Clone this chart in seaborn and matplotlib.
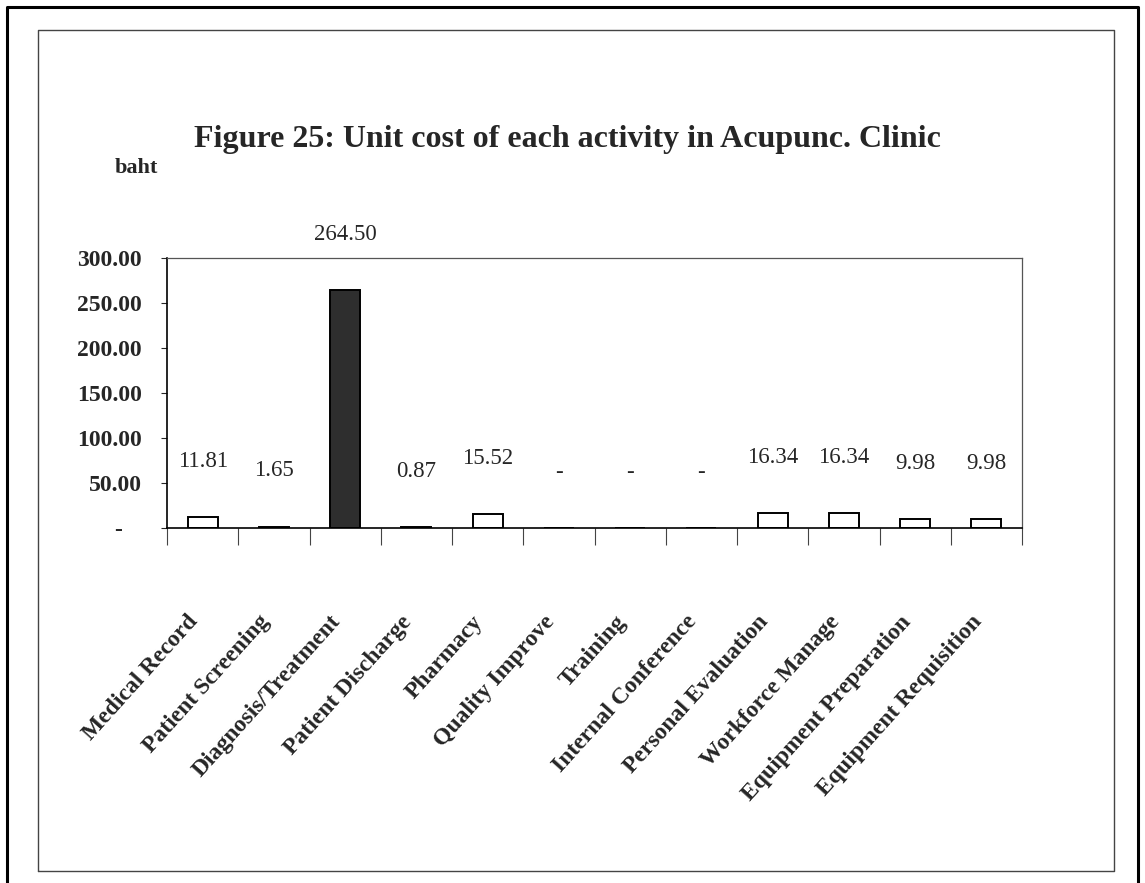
import numpy as np
import matplotlib
matplotlib.use("Agg")
import matplotlib.pyplot as plt
import matplotlib.transforms as mtransforms
from matplotlib.lines import Line2D
from matplotlib.ticker import FixedLocator
import seaborn as sns

# data
activities = ['Medical Record', 'Patient Screening', 'Diagnosis/Treatment',
              'Patient Discharge', 'Pharmacy', 'Quality Improve', 'Training',
              'Internal Conference', 'Personal Evaluation', 'Workforce Manage',
              'Equipment Preparation', 'Equipment Requisition']
unit_cost = [11.81, 1.65, 264.50, 0.87, 15.52, 0.0, 0.0, 0.0, 16.34, 16.34, 9.98, 9.98]
y_ticks = [0, 50, 100, 150, 200, 250, 300]

sns.set_style('white')
plt.rcParams['font.family'] = ['Liberation Serif', 'DejaVu Serif']

W, H = 1145, 883
fig = plt.figure(figsize=(W / 100, H / 100), dpi=100)
ax = fig.add_axes([167 / W, 1 - 528 / H, (1022 - 167) / W, (528 - 258) / H])

colors = ['#2e2e2e' if v == max(unit_cost) else 'white' for v in unit_cost]
sns.barplot(x=activities, y=unit_cost, hue=activities, palette=colors, legend=False,
            width=0.42, edgecolor='black', linewidth=1.4, ax=ax)

ax.set_xlim(-0.5, len(activities) - 0.5)
ax.set_ylim(0, 300)

# value labels above each bar
for p, v in zip(ax.patches, unit_cost):
    txt = '-' if v == 0 else f'{v:.2f}'
    ax.annotate(txt, (p.get_x() + p.get_width() / 2, p.get_height()),
                xytext=(0, 40), textcoords='offset points',
                ha='center', va='center', fontsize=16.5, annotation_clip=False)

# y axis
ax.set_yticks(y_ticks)
ax.set_yticklabels(['-' if t == 0 else f'{t:.2f}' for t in y_ticks],
                   fontsize=17, fontweight='bold')
ax.tick_params(axis='y', direction='out', length=4, width=0.8, pad=14, left=True)
shift = mtransforms.ScaledTranslation(-20 / 100, 0, fig.dpi_scale_trans)
lab0 = ax.get_yticklabels()[0]
lab0.set_transform(lab0.get_transform() + shift)

# x axis: labels at centres, tick marks between categories
ax.set_xticks(range(len(activities)))
ax.set_xticklabels(activities, rotation=48, ha='right', va='top',
                   fontsize=17, fontweight='bold')
ax.tick_params(axis='x', which='major', length=0, pad=60)
ax.xaxis.set_minor_locator(FixedLocator(np.arange(-0.5, len(activities), 1.0)))
ax.tick_params(axis='x', which='minor', direction='out', length=12, width=0.8,
               color='#444444', bottom=True)
ax.set_xlabel('')
ax.set_ylabel('')

for s in ['left', 'bottom']:
    ax.spines[s].set_color('black')
    ax.spines[s].set_linewidth(1.2)
for s in ['top', 'right']:
    ax.spines[s].set_color('#555555')
    ax.spines[s].set_linewidth(0.9)

fig.text(567 / W, 1 - 140 / H, 'Figure 25: Unit cost of each activity in Acupunc. Clinic',
         ha='center', va='center', fontsize=23, fontweight='bold')
fig.text(115 / W, 1 - 168 / H, 'baht', ha='left', va='center', fontsize=16,
         fontweight='bold')


def px_line(xs, ys, **kw):
    fig.add_artist(Line2D([x / W for x in xs], [1 - y / H for y in ys],
                          transform=fig.transFigure, **kw))


# outer and inner frames
px_line([7, 7, 1138, 1138], [883, 7, 7, 883], color='black', lw=2.2)
px_line([38, 38, 1114, 1114, 38], [871, 30, 30, 871, 871], color='#444444', lw=1.0)

fig.savefig('out.png', dpi=100)
